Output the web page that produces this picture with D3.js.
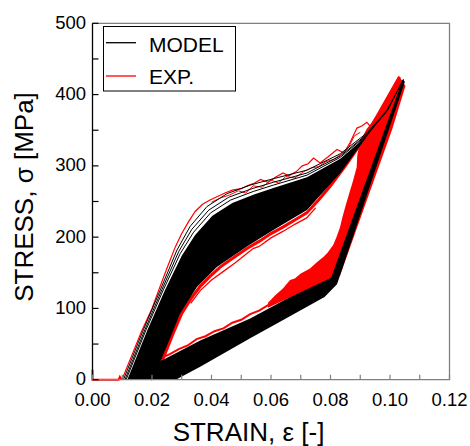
<!DOCTYPE html>
<html><head><meta charset="utf-8">
<script src="https://cdn.jsdelivr.net/npm/d3@7"></script>
<style>
body{margin:0;background:#fff}
svg{display:block}
text{font-family:"Liberation Sans",Arial,sans-serif;fill:#000}
</style>
</head><body>
<svg id="chart" width="470" height="446"></svg>
<script>
// ---------- DATA (strain [-], stress [MPa]) ----------
const xTickValues = [0, 0.02, 0.04, 0.06, 0.08, 0.10, 0.12];
const xTickLabels = ["0.00", "0.02", "0.04", "0.06", "0.08", "0.10", "0.12"];
const yTickValues = [0, 100, 200, 300, 400, 500];
const yTickLabels = ["0", "100", "200", "300", "400", "500"];
const legendLabels = ["MODEL", "EXP."];

// model loading curves: first cycles drawn as lines, band from cycle 4 to last cycle
const modelLoad1 = [[0.0104,0],[0.0171,70],[0.0228,126],[0.0284,182],[0.0328,215],[0.0385,243],[0.0452,261],[0.0530,273],[0.0608,282],[0.0721,294],[0.0833,317],[0.0922,346],[0.0990,378],[0.1045,421]];
const modelLoad2 = [[0.0109,0],[0.0176,70],[0.0233,126],[0.0290,180],[0.0334,211],[0.0391,238],[0.0458,256],[0.0536,268],[0.0608,277],[0.0721,290],[0.0833,314],[0.0922,344],[0.0990,377],[0.1045,421]];
const modelLoad3 = [[0.0113,0],[0.0180,70],[0.0238,126],[0.0295,177],[0.0340,207],[0.0397,234],[0.0464,252],[0.0540,264],[0.0608,273],[0.0721,287],[0.0833,312],[0.0922,343],[0.0990,377],[0.1045,421]];
const modelLoad4 = [[0.0117,0],[0.0185,70],[0.0243,125],[0.0300,174],[0.0345,203],[0.0403,230],[0.0470,248],[0.0545,260],[0.0608,269],[0.0721,284],[0.0833,310],[0.0922,342],[0.0990,377],[0.1045,421]];
const modelLoadLast = [[0.0203,0],[0.0228,25],[0.0295,93],[0.0351,130],[0.0418,158],[0.0519,187],[0.0608,210],[0.0721,238],[0.0833,290],[0.0922,341],[0.0990,378],[0.1045,421]];
// model unloading envelope (upper and lower edge of all unloading paths)
const modelUnloadUpper = [[0.1043,421],[0.0802,143],[0.0650,113],[0.0530,86],[0.0362,55],[0.0228,26],[0.0190,18],[0.0170,0]];
const modelUnloadLower = [[0.1050,418],[0.0822,134],[0.0780,116],[0.0650,86],[0.0530,58],[0.0362,18],[0.0280,0]];

// experiment
const expPreload = [[0,14],[0,0],[0.0088,0],[0.0092,4],[0.0097,1],[0.0101,2]];
const expLoadFirst = [[0.0101,2],[0.0130,32],[0.0165,68],[0.0200,100],[0.0222,125],[0.0250,156],[0.0278,186],[0.0300,205],[0.0322,221],[0.0345,236],[0.0370,246],[0.0395,252],[0.0420,257],[0.0445,262],[0.0470,266],[0.0500,268],[0.0520,272],[0.0545,276],[0.0565,281],[0.0590,277],[0.0615,284],[0.0640,290],[0.0660,286],[0.0685,292],[0.0705,300],[0.0725,303],[0.0743,311],[0.0765,304],[0.0790,312],[0.0822,323],[0.0845,318],[0.0865,332],[0.0889,353],[0.0905,356],[0.0922,361],[0.0935,355],[0.0960,372],[0.0990,392],[0.1032,425]];
const expLoadSecond = [[0.0400,249],[0.0430,255],[0.0460,259],[0.0490,265],[0.0515,262],[0.0540,272],[0.0570,270],[0.0600,280],[0.0625,276],[0.0650,285],[0.0680,283],[0.0710,292],[0.0735,297],[0.0760,299],[0.0785,306],[0.0810,309],[0.0835,316],[0.0860,325],[0.0880,342],[0.0900,347]];
const expLoadLast = [[0.0195,0],[0.0232,24],[0.0270,64],[0.0300,93],[0.0330,113],[0.0362,131],[0.0395,145],[0.0429,158],[0.0470,170],[0.0519,184],[0.0560,194],[0.0600,205],[0.0640,214],[0.0680,224],[0.0720,234],[0.0760,252],[0.0800,272],[0.0850,300],[0.0900,330],[0.0960,372],[0.1032,425]];
const expLoadLastB = [[0.0330,107],[0.0362,125],[0.0400,140],[0.0440,152],[0.0480,164],[0.0519,177],[0.0540,184],[0.0560,187],[0.0600,199],[0.0640,208],[0.0680,218],[0.0720,227],[0.0750,241]];
// experimental unloading envelope, both edges listed from the peak downwards
const expUnloadOuter = [[0.1032,425],[0.0990,392],[0.0950,366],[0.0922,352],[0.0900,335],[0.0890,315],[0.0888,298],[0.0875,278],[0.0862,260],[0.0850,243],[0.0840,228],[0.0832,214],[0.0820,200],[0.0809,189],[0.0790,178],[0.0776,172],[0.0755,165],[0.0731,156],[0.0700,149],[0.0680,142],[0.0664,140],[0.0640,128],[0.0615,119],[0.0590,108]];
const expUnloadInner = [[0.1052,412],[0.1008,352],[0.0948,282],[0.0878,200],[0.0832,146],[0.0800,141],[0.0750,131],[0.0700,122],[0.0650,113],[0.0590,101]];
const expLowerPlateau = [[0.0228,30],[0.0260,36],[0.0290,43],[0.0320,48],[0.0350,57],[0.0380,61],[0.0410,68],[0.0440,72],[0.0470,80],[0.0500,84],[0.0530,92],[0.0560,97],[0.0600,107]];

// ---------- CHART ----------
const svg = d3.select("#chart");
const x = d3.scaleLinear().domain([0, 0.12]).range([92.5, 449.5]);
const y = d3.scaleLinear().domain([0, 500]).range([379.7, 23.3]);
const line = d3.line().x(d => x(d[0])).y(d => y(d[1]));
const band = (a, b) => line(a.concat(b.slice().reverse())) + "Z";
const RED = "#ff0000";

const g = svg.append("g");

// experiment (under model)
g.append("path").attr("d", line(expPreload)).attr("fill", "none").attr("stroke", RED).attr("stroke-width", 2);
g.append("path").attr("d", band(expUnloadOuter, expUnloadInner)).attr("fill", RED);
g.append("path").attr("d", line(expLoadLast)).attr("fill", "none").attr("stroke", RED).attr("stroke-width", 3);
g.append("path").attr("d", line(expLoadLastB)).attr("fill", "none").attr("stroke", RED).attr("stroke-width", 1.3);
g.append("path").attr("d", line(expLowerPlateau)).attr("fill", "none").attr("stroke", RED).attr("stroke-width", 2);
g.append("path").attr("d", line(expLoadFirst)).attr("fill", "none").attr("stroke", RED).attr("stroke-width", 1.2);
g.append("path").attr("d", line(expLoadSecond)).attr("fill", "none").attr("stroke", RED).attr("stroke-width", 1);

// model
g.append("path").attr("d", band(modelLoad4, modelLoadLast)).attr("fill", "#000");
g.append("path").attr("d", band(modelUnloadUpper, modelUnloadLower)).attr("fill", "#000");
[modelLoad1, modelLoad2, modelLoad3].forEach(c => {
  g.append("path").attr("d", line(c)).attr("fill", "none").attr("stroke", "#000").attr("stroke-width", 1);
});

// frame
const [x0, x1] = x.range(), [y0, y1] = y.range();
svg.append("path").attr("d", `M${x0},${y1}H${x1}V${y0}H${x0}`).attr("fill", "none").attr("stroke", "#808080").attr("stroke-width", 1.3);
svg.append("line").attr("x1", x0).attr("x2", x0).attr("y1", y1).attr("y2", y0).attr("stroke", "#000").attr("stroke-width", 1.3);

// y ticks (major + minor, inside)
y.ticks(10).forEach(v => {
  svg.append("line").attr("x1", x0).attr("x2", x0 + 6).attr("y1", y(v)).attr("y2", y(v)).attr("stroke", "#000").attr("stroke-width", 1.2);
});
yTickValues.forEach((v, i) => {
  svg.append("text").attr("x", x0 - 6.5).attr("y", y(v) + 5.5).attr("text-anchor", "end")
    .style("font-size", "18.5px").text(yTickLabels[i]);
});
// x ticks
x.ticks(12).forEach(v => {
  svg.append("line").attr("x1", x(v)).attr("x2", x(v)).attr("y1", y0).attr("y2", y0 - 5).attr("stroke", "#808080").attr("stroke-width", 1.2);
});
xTickValues.forEach((v, i) => {
  svg.append("text").attr("x", x(v)).attr("y", 406).attr("text-anchor", "middle")
    .style("font-size", "18.5px").text(xTickLabels[i]);
});

// axis titles
svg.append("text").attr("x", 248.5).attr("y", 441).attr("text-anchor", "middle")
  .style("font-size", "26px").text("STRAIN, \u03b5 [-]");
svg.append("text").attr("transform", "translate(33,197) rotate(-90)").attr("text-anchor", "middle")
  .style("font-size", "26px").text("STRESS, \u03c3 [MPa]");

// legend
const lg = svg.append("g");
lg.append("rect").attr("x", 103.5).attr("y", 26.5).attr("width", 132).attr("height", 64.5)
  .attr("fill", "#fff").attr("stroke", "#000").attr("stroke-width", 1);
[["#000", 42.7, 51.7], [RED, 76, 84]].forEach((d, i) => {
  lg.append("line").attr("x1", 106).attr("x2", 136).attr("y1", d[1]).attr("y2", d[1]).attr("stroke", d[0]).attr("stroke-width", 1.3);
  lg.append("text").attr("x", 149).attr("y", d[2]).style("font-size", "21px").text(legendLabels[i]);
});
</script>
</body></html>
